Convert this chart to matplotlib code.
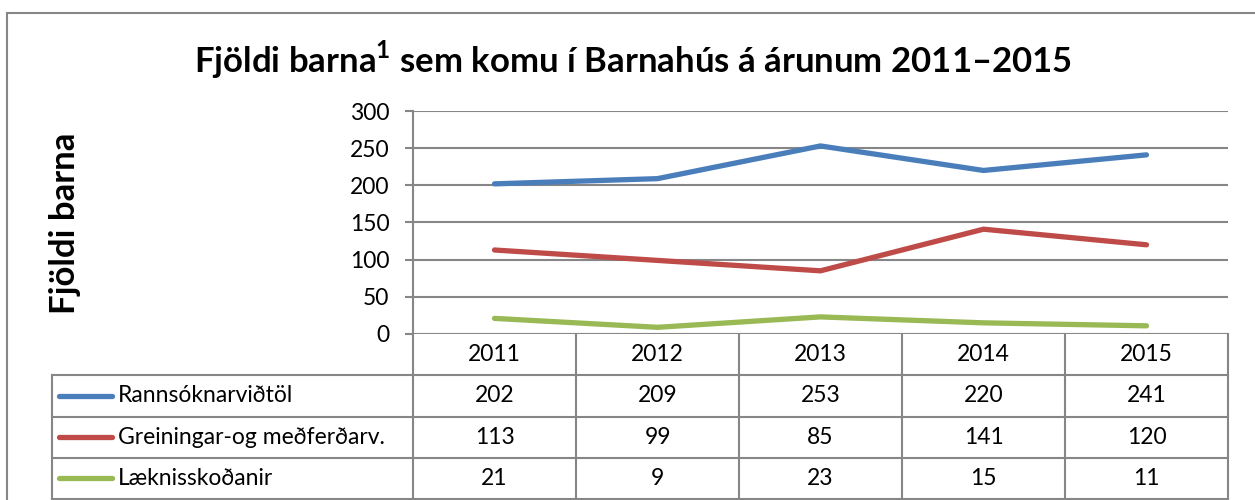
import matplotlib
matplotlib.use('Agg')
from matplotlib import pyplot as plt
from matplotlib.patches import Rectangle
import numpy

years = ['2011', '2012', '2013', '2014', '2015']
series_names = ['Rannsóknarviðtöl', 'Greiningar-og meðferðarv.', 'Læknisskoðanir']
rannsoknir = [202, 209, 253, 220, 241]
greiningar = [113, 99, 85, 141, 120]
laekni = [21, 9, 23, 15, 11]
colors = ['#4A7EBB', '#BE4B48', '#98B954']

title = 'Fjöldi barna$^{\\mathbf{1}}$ sem komu í Barnahús á árunum 2011–2015'
ylabel = 'Fjöldi barna'

W, H = 1255, 500
grid_color = '#868686'
fs = 16.5
plt.rcParams['font.family'] = ['Lato', 'DejaVu Sans']
plt.rcParams['mathtext.fontset'] = 'custom'
plt.rcParams['mathtext.bf'] = 'Lato:bold'

fig = plt.figure(figsize=(W / 100, H / 100), dpi=100)


def px(x0, y0, x1, y1):
    # pixel box (top-left origin) -> figure fraction rect
    return [x0 / W, 1 - y1 / H, (x1 - x0) / W, (y1 - y0) / H]


# outer chart frame
fig.add_artist(Rectangle((7 / W, -0.1), 1.1, 1 - 13 / H + 0.1, transform=fig.transFigure,
                         fill=False, edgecolor='#868686', linewidth=1.5))

x_left, x_right = 413, 1228
y_top, y_zero = 111, 334
ax = fig.add_axes(px(x_left, y_top, x_right, y_zero))
x = numpy.arange(len(years))
all_series = [rannsoknir, greiningar, laekni]
for vals, c in zip(all_series, colors):
    ax.plot(x, vals, color=c, linewidth=3.8, solid_capstyle='round', zorder=3)
ax.set_xlim(-0.5, len(years) - 0.5)
ax.set_ylim(0, 300)
ax.set_yticks(numpy.arange(0, 301, 50))
ax.set_xticks([])
for v in numpy.arange(0, 301, 50):
    ax.axhline(v, color=grid_color, linewidth=1.5, zorder=1)
for s in ['top', 'right', 'bottom']:
    ax.spines[s].set_visible(False)
ax.spines['left'].set_color(grid_color)
ax.spines['left'].set_linewidth(1.5)
ax.tick_params(axis='y', length=6, width=1.5, color=grid_color, labelsize=fs, pad=11)

# data table below the plot
col_w = (x_right - x_left) / len(years)
tbl_left = 52
tbl_top, tbl_bottom = 334, 499
tx = fig.add_axes(px(tbl_left, tbl_top, x_right, tbl_bottom))
left_units = (x_left - tbl_left) / col_w
tx.set_xlim(-0.5 - left_units, len(years) - 0.5)
tx.set_ylim(4, 0)
tx.axis('off')
lk = dict(color=grid_color, linewidth=1.5, clip_on=False)
for i in range(len(years) + 1):
    tx.plot([i - 0.5, i - 0.5], [0, 4], **lk)
tx.plot([-0.5 - left_units, -0.5 - left_units], [1, 4], **lk)
for r in range(1, 5):
    tx.plot([-0.5 - left_units, len(years) - 0.5], [r, r], **lk)
for i, yr in enumerate(years):
    tx.text(i, 0.5, yr, ha='center', va='center', fontsize=fs)
for r, (name, vals, c) in enumerate(zip(series_names, all_series, colors)):
    yrow = r + 1.5
    x0 = -0.5 - left_units
    tx.plot([x0 + 0.04, x0 + 0.37], [yrow, yrow], color=c, linewidth=3.8,
            solid_capstyle='round', clip_on=False)
    tx.text(x0 + 0.405, yrow, name, ha='left', va='center', fontsize=fs)
    for i, v in enumerate(vals):
        tx.text(i, yrow, str(v), ha='center', va='center', fontsize=fs)

fig.text(633 / W, 1 - 60 / H, title, ha='center', va='center', fontsize=25, fontweight='bold')
fig.text(65 / W, 1 - 223 / H, ylabel, ha='center', va='center', rotation=90,
         fontsize=25, fontweight='bold')

fig.savefig('out.png', dpi=100)
